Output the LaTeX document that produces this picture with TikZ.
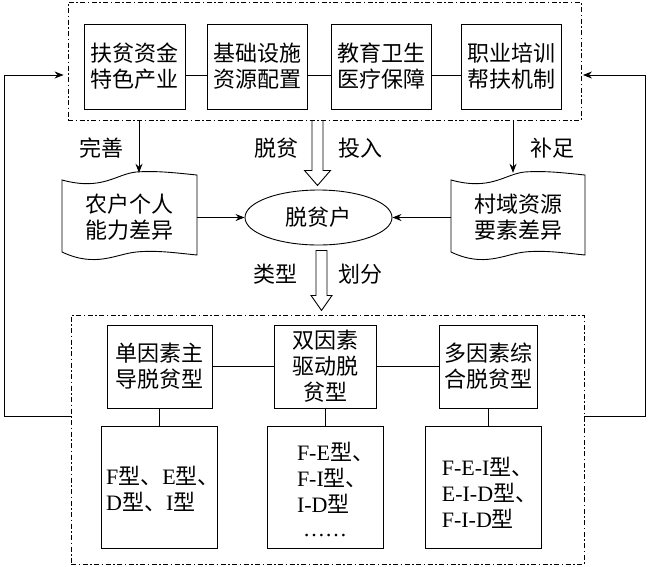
\documentclass[tikz,border=0pt]{standalone}
\usepackage{fontspec}
\setmainfont{Noto Sans CJK SC}
\newfontfamily\latinf{Liberation Serif}
\newcommand\latn[1]{{\latinf #1}}
\usetikzlibrary{shapes.geometric,arrows.meta}
\newcommand\wavedoc[2]{%
\draw[line width=0.9pt] (#1,180) .. controls ({#1+0.3*#2},191) and ({#1+0.4*#2},174) .. ({#1+0.55*#2},172) .. controls ({#1+0.7*#2},170.5) and ({#1+0.85*#2},173) .. ({#1+#2},175) -- ({#1+#2},255) .. controls ({#1+0.85*#2},253) and ({#1+0.7*#2},250) .. ({#1+0.55*#2},252) .. controls ({#1+0.4*#2},254) and ({#1+0.25*#2},268) .. (#1,252) -- cycle;}
\begin{document}
\begin{tikzpicture}[x=1pt,y=-1pt,
 every node/.style={inner sep=0pt, font=\fontsize{22}{26}\selectfont},
 box/.style={draw, line width=0.9pt, align=center},
 dd/.style={draw, line width=0.9pt, dash pattern=on 5pt off 2.5pt on 1.5pt off 2.5pt},
 arr/.style={line width=0.9pt, -{Stealth[length=9pt,width=7pt]}},
 ln/.style={line width=0.9pt}]
\useasboundingbox (0,0) rectangle (650,566);
% top group
\node[dd, minimum width=513pt, minimum height=118pt] (top) at (324.5,61) {};
\node[box, minimum width=101pt, minimum height=85pt] (b1) at (134.5,66.5) {扶贫资金\\特色产业};
\node[box, minimum width=100pt, minimum height=85pt] (b2) at (257,66.5) {基础设施\\资源配置};
\node[box, minimum width=100pt, minimum height=85pt] (b3) at (381,66.5) {教育卫生\\医疗保障};
\node[box, minimum width=100pt, minimum height=85pt] (b4) at (511,66.5) {职业培训\\帮扶机制};
\draw[ln] (b1.east |- 0,75) -- (b2.west |- 0,75);
\draw[ln] (b2.east |- 0,75) -- (b3.west |- 0,75);
\draw[ln] (b3.east |- 0,75) -- (b4.west |- 0,75);
% middle
\node[draw, ellipse, line width=0.9pt, minimum width=147pt, minimum height=55pt] (ell) at (318.5,217.5) {脱贫户};
\wavedoc{62}{135}
\wavedoc{451}{134}
\node[minimum width=135pt, minimum height=81pt] (ld) at (129.5,213.5) {};
\node[minimum width=134pt, minimum height=81pt] (rd) at (518,213.5) {};
\node[align=center] (ldt) at (129.5,217.5) {农户个人\\能力差异};
\node[align=center] (rdt) at (518,217.5) {村域资源\\要素差异};
\draw[arr] (top.south -| 139,0) -- (ld.north -| 139,0);
\draw[arr] (top.south -| 513,0) -- (rd.north -| 513,0);
\draw[arr] (ld.east |- ell.west) -- (ell.west);
\draw[arr] (rd.west |- ell.east) -- (ell.east);
\node (l1) at (101,148) {完善};
\node (l2) at (276,148) {脱贫};
\node (l3) at (360,148) {投入};
\node (l4) at (552,148) {补足};
\node (l5) at (275,274) {类型};
\node (l6) at (360.5,274) {划分};
% fat arrows
\coordinate (f1) at (top.south -| 317.5,0);
\draw[ln, line join=miter] (f1) ++(-5.5,0) -- ++(0,50) -- ++(-7.5,0) -- ++(13,15) -- ++(13,-15) -- ++(-7.5,0) -- ++(0,-50);
\coordinate (f2) at (ell.south -| 321.5,0);
\draw[ln, line join=miter] (f2) ++(-5.5,5) -- ++(0,45) -- ++(-5,0) -- ++(10.5,15) -- ++(10.5,-15) -- ++(-5,0) -- ++(0,-45) -- cycle;
% bottom group
\node[dd, minimum width=513pt, minimum height=249pt] (bot) at (327.5,439.5) {};
\node[box, minimum width=105pt, minimum height=83pt] (p1) at (159.5,366.5) {单因素主\\导脱贫型};
\node[box, minimum width=102pt, minimum height=83pt] (p2) at (325,366.5) {双因素\\驱动脱\\贫型};
\node[box, minimum width=98pt, minimum height=83pt] (p3) at (488,366.5) {多因素综\\合脱贫型};
\draw[ln] (p1) -- (p2);
\draw[ln] (p2) -- (p3);
\node[draw, line width=0.9pt, minimum width=116pt, minimum height=122pt] (q1) at (159,487) {};
\node[draw, line width=0.9pt, minimum width=116pt, minimum height=122pt] (q2) at (325,487) {};
\node[draw, line width=0.9pt, minimum width=116pt, minimum height=122pt] (q3) at (483,487) {};
\draw[ln] (p1.south) -- (p1.south |- q1.north);
\draw[ln] (p2.south) -- (p2.south |- q2.north);
\draw[ln] (p3.south) -- (p3.south |- q3.north);
\node[align=left] (q1t) at (163,488.5) {\latn{F}型、\latn{E}型、\\\latn{D}型、\latn{I}型};
\node[align=left] (q2t) at (335.5,478) {\latn{F-E}型、\\\latn{F-I}型、\\\latn{I-D}型};
\node (q2d) at (325,535) {\latn{……}};
\node[align=left] (q3t) at (489.5,492.5) {\latn{F-E-I}型、\\\latn{E-I-D}型、\\\latn{F-I-D}型};
% feedback
\coordinate (c1) at (4,416);
\coordinate (c2) at (4,75);
\coordinate (c3) at (645,416);
\coordinate (c4) at (645,75);
\draw[arr, shorten >=4pt] (bot.west |- c1) -- (c1) -- (c2) -- (top.west |- c2);
\draw[arr, shorten >=1.5pt] (bot.east |- c3) -- (c3) -- (c4) -- (top.east |- c4);
\end{tikzpicture}
\end{document}
